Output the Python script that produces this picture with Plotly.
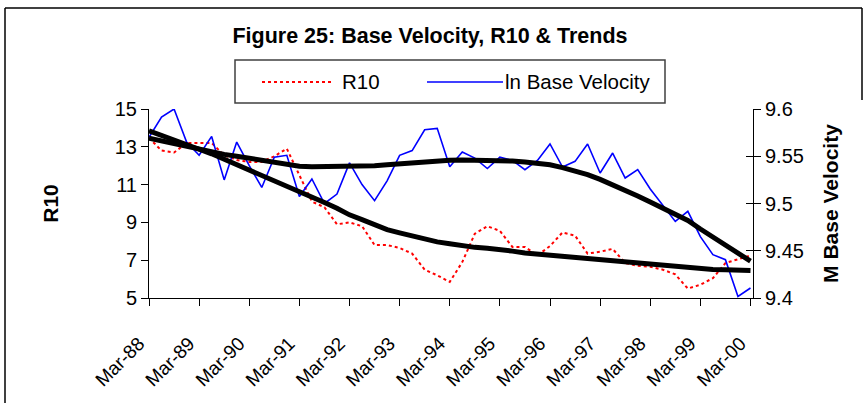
import plotly.graph_objects as go

# ---------------- data ----------------
years = ["88", "89", "90", "91", "92", "93", "94", "95", "96", "97", "98", "99", "00"]
months = ["Mar", "Jun", "Sep", "Dec"]
quarters = [f"{m}-{y}" for y in years for m in months][:49]  # Mar-88 .. Mar-00
tick_labels = ["Mar-88", "Mar-89", "Mar-90", "Mar-91", "Mar-92", "Mar-93", "Mar-94",
               "Mar-95", "Mar-96", "Mar-97", "Mar-98", "Mar-99", "Mar-00"]

r10 = [13.47, 12.8, 12.7, 13.2, 13.2, 13.2, 12.55, 12.3, 12.2, 12.2,
       12.5, 12.9, 11.5, 10.1, 9.8, 8.9, 9.0, 8.8, 7.8, 7.8,
       7.65, 7.35, 6.5, 6.2, 5.85, 6.9, 8.4, 8.8, 8.55, 7.7,
       7.7, 7.25, 7.75, 8.47, 8.3, 7.35, 7.45, 7.6, 6.85, 6.7,
       6.65, 6.5, 6.25, 5.5, 5.7, 6.05, 6.85, 7.05, 7.25]

ln_base_velocity = [9.570, 9.5915, 9.600, 9.565, 9.551, 9.571, 9.525, 9.565, 9.540, 9.517,
                    9.549, 9.551, 9.5075, 9.526, 9.500, 9.510, 9.543, 9.520, 9.503, 9.524,
                    9.551, 9.556, 9.578, 9.5795, 9.539, 9.5545, 9.548, 9.537, 9.549, 9.5456,
                    9.5358, 9.5456, 9.563, 9.5386, 9.5446, 9.563, 9.5323, 9.5534, 9.527, 9.5358,
                    9.5153, 9.4987, 9.481, 9.4917, 9.465, 9.4458, 9.4405, 9.4017, 9.4106]

r10_trend = [13.85, 13.62, 13.38, 13.13, 12.87, 12.63, 12.35, 12.05, 11.75, 11.48,
             11.24, 10.95, 10.65, 10.35, 10.05, 9.75, 9.4, 9.15, 8.9, 8.62,
             8.45, 8.28, 8.12, 7.97, 7.87, 7.75, 7.68, 7.63, 7.58, 7.48,
             7.38, 7.32, 7.26, 7.2, 7.15, 7.09, 7.03, 6.97, 6.9, 6.83,
             6.76, 6.7, 6.64, 6.59, 6.55, 6.51, 6.49, 6.47, 6.45]

velocity_trend = [9.569, 9.566, 9.563, 9.560, 9.557, 9.555, 9.552, 9.550, 9.548, 9.545,
                  9.543, 9.541, 9.5395, 9.539, 9.539, 9.539, 9.539, 9.5393, 9.540, 9.541,
                  9.542, 9.5435, 9.545, 9.5455, 9.5458, 9.546, 9.546, 9.546, 9.546, 9.545,
                  9.544, 9.543, 9.541, 9.538, 9.5345, 9.5305, 9.5255, 9.520, 9.5148, 9.508,
                  9.5015, 9.495, 9.4885, 9.482, 9.473, 9.4645, 9.4555, 9.447, 9.439]

left_ticks = [5, 7, 9, 11, 13, 15]
right_ticks = [9.4, 9.45, 9.5, 9.55, 9.6]
right_tick_text = ["9.4", "9.45", "9.5", "9.55", "9.6"]

FONT = "Liberation Sans, Arial, sans-serif"

# ---------------- figure ----------------
fig = go.Figure()
fig.add_trace(go.Scatter(x=quarters, y=r10, mode="lines", name="R10",
                         line=dict(color="#FF0000", width=2, dash="3px,3px"),
                         yaxis="y", showlegend=False))
fig.add_trace(go.Scatter(x=quarters, y=ln_base_velocity, mode="lines", name="ln Base Velocity",
                         line=dict(color="#0000FF", width=1.6),
                         yaxis="y2", showlegend=False))
fig.add_trace(go.Scatter(x=quarters, y=velocity_trend, mode="lines", name="Velocity trend",
                         line=dict(color="#000000", width=5),
                         yaxis="y3", showlegend=False))
fig.add_trace(go.Scatter(x=quarters, y=r10_trend, mode="lines", name="R10 trend",
                         line=dict(color="#000000", width=5),
                         yaxis="y4", showlegend=False))

L, R, T, B = 149, 753, 109, 298
W, H = 867, 403


def px(xp):
    return (xp - L) / (R - L)


def py(yp):
    return (B - yp) / (B - T)


tickfont = dict(family=FONT, size=20, color="#000000")
xtickfont = dict(family=FONT, size=19, color="#000000")
axis_title_font = dict(family=FONT, size=21, color="#000000")

fig.update_layout(
    width=W, height=H, autosize=False,
    margin=dict(l=L, r=W - R, t=T, b=H - B, pad=0),
    paper_bgcolor="#FFFFFF", plot_bgcolor="#FFFFFF",
    font=dict(family=FONT, color="#000000"),
    title=dict(text="<b>Figure 25: Base Velocity, R10 &amp; Trends</b>",
               x=430 / W, xanchor="center", y=1 - 35 / H, yanchor="middle",
               font=dict(family=FONT, size=21.5, color="#000000")),
    xaxis=dict(type="category", range=[0, 48.2], tickmode="array",
               tickvals=tick_labels, ticktext=tick_labels, tickangle=-45,
               ticks="outside", ticklen=7, tickcolor="#000000", tickwidth=1,
               ticklabelstandoff=19, ticklabelshift=-10,
               showline=True, linecolor="#000000", linewidth=1,
               showgrid=False, zeroline=False, tickfont=xtickfont),
    yaxis=dict(range=[5, 15], tickmode="array", tickvals=left_ticks,
               ticks="outside", ticklen=7, tickcolor="#000000",
               showline=True, linecolor="#000000", linewidth=1,
               showgrid=False, zeroline=False, tickfont=tickfont,
               title=dict(text="<b>R10</b>", standoff=50, font=axis_title_font)),
    yaxis2=dict(range=[9.4, 9.6], overlaying="y", side="right", anchor="x",
                tickmode="array", tickvals=right_ticks, ticktext=right_tick_text,
                ticks="outside", ticklen=7, tickcolor="#000000",
                showline=True, linecolor="#000000", linewidth=1,
                showgrid=False, zeroline=False, tickfont=tickfont,
                title=dict(text="<b>M Base Velocity</b>", standoff=20, font=axis_title_font)),
    yaxis3=dict(range=[9.4, 9.6], overlaying="y", side="right", anchor="x",
                tickmode="array", tickvals=right_ticks,
                ticks="inside", ticklen=7, tickcolor="#000000",
                showticklabels=False, showline=False, showgrid=False, zeroline=False),
    yaxis4=dict(range=[5, 15], overlaying="y", side="left", anchor="x",
                showticklabels=False, ticks="", showline=False,
                showgrid=False, zeroline=False),
)

# outer chart frame (left, top, short right part)
frame = dict(color="#000000", width=1.5)
fig.add_shape(type="line", xref="paper", yref="paper", x0=px(5), x1=px(5), y0=py(8), y1=py(403), line=frame)
fig.add_shape(type="line", xref="paper", yref="paper", x0=px(5), x1=px(862), y0=py(8), y1=py(8), line=frame)
fig.add_shape(type="line", xref="paper", yref="paper", x0=px(862), x1=px(862), y0=py(8), y1=py(100), line=frame)

# legend box
fig.add_shape(type="rect", xref="paper", yref="paper", x0=px(235), x1=px(665), y0=py(103), y1=py(60),
              line=dict(color="#404040", width=1.5), fillcolor="#FFFFFF")
fig.add_shape(type="line", xref="paper", yref="paper", x0=px(262), x1=px(332), y0=py(82), y1=py(82),
              line=dict(color="#FF0000", width=2, dash="3px,3px"))
fig.add_shape(type="line", xref="paper", yref="paper", x0=px(427), x1=px(503), y0=py(82), y1=py(82),
              line=dict(color="#0000FF", width=1.6))
legend_font = dict(family=FONT, size=20.5, color="#000000")
fig.add_annotation(text="R10", xref="paper", yref="paper", x=px(340), y=py(81),
                   xanchor="left", yanchor="middle", showarrow=False, font=legend_font)
fig.add_annotation(text="ln Base Velocity", xref="paper", yref="paper", x=px(503), y=py(81),
                   xanchor="left", yanchor="middle", showarrow=False, font=legend_font)

fig.write_html("out.html", config={"displayModeBar": False},
               post_script="document.body.style.margin='0';document.body.style.overflow='hidden';")
